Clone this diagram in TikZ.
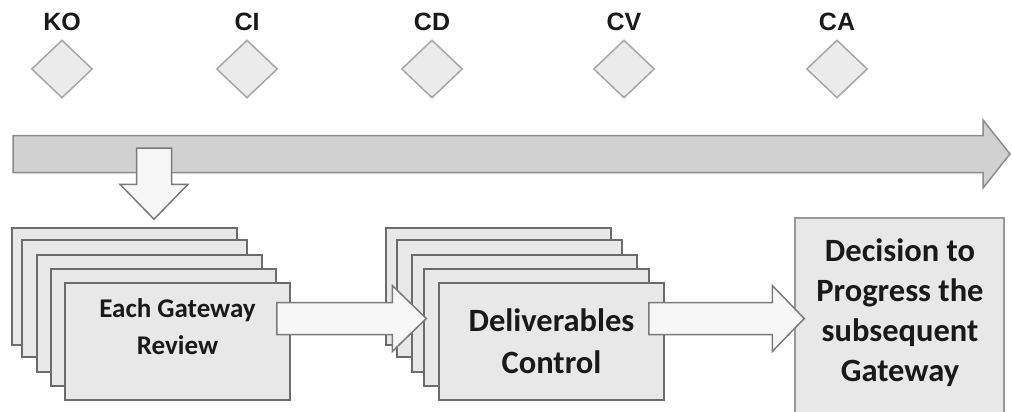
\documentclass[tikz,border=0pt]{standalone}
\usepackage{fontspec}
\setmainfont{Carlito}
\newfontfamily\gatefont{Liberation Sans}
\usetikzlibrary{shapes.geometric,positioning,calc}

\tikzset{
  gate/.style={diamond, draw=black!35, fill=black!8, line width=1.5pt, minimum width=61pt, minimum height=58pt, inner sep=0pt},
  gatetext/.style={font=\gatefont\bfseries\fontsize{25}{25}\selectfont, text=black!90, inner sep=0pt},
  card/.style={draw=black!58, fill=black!9, line width=1.5pt, minimum width=225pt, minimum height=117pt, inner sep=0pt},
  cardtext/.style={font=\bfseries\fontsize{32.5}{42}\selectfont, text=black!90, align=center, inner sep=0pt},
  blockarrow/.style={draw=black!52, fill=black!3, line width=1.5pt},
  timeline/.style={draw=black!45, fill=black!18, line width=1.5pt},
}

\newcommand\fatarrow[6]{% style, from, to, shaft half width, head half width, head length
  \coordinate (fa-base) at ($(#3)!#6!(#2)$);
  \draw[#1] ($(#2)!#4!90:(#3)$) -- ($(fa-base)!#4!90:(#3)$) -- ($(fa-base)!#5!90:(#3)$) -- (#3)
    -- ($(fa-base)!#5!-90:(#3)$) -- ($(fa-base)!#4!-90:(#3)$) -- ($(#2)!#4!-90:(#3)$) -- cycle;
}

\begin{document}
\begin{tikzpicture}[x=1pt, y=-1pt]
\useasboundingbox (0,0) rectangle (1012,412);
\foreach \name/\x in {KO/62, CI/247, CD/432, CV/624, CA/837} {
  \node[gate] (\name) at (\x,69) {};
  \node[gatetext, above=8pt of \name] (\name-text) {\name};
}
\coordinate (tl-start) at (13,154);
\coordinate (tl-end) at (1010,154);
\fatarrow{timeline}{tl-start}{tl-end}{18.5pt}{34pt}{27pt}
\foreach \i/\dx/\dy in {1/0/0, 2/10/12, 3/25/27, 4/39/41, 5/53/55}
  \node[card] (rev\i) at (124.5+\dx, 286.5+\dy) {};
\node[cardtext, font=\bfseries\fontsize{27}{37}\selectfont] (rev-text) at ($(rev5)+(0,-15)$) {Each Gateway\\Review};
\foreach \i/\dx/\dy in {1/0/0, 2/11/12, 3/26/27, 4/38/41}
  \node[card] (del\i) at (498.5+\dx, 286.5+\dy) {};
\node[card, cardtext] (del5) at (551.5, 341.5) {Deliverables\\Control};
\node[card, draw=black!40, minimum width=209pt, minimum height=206pt] (decide) at (899.5, 321) {};
\node[cardtext, font=\bfseries\fontsize{32.5}{40}\selectfont] (decide-text) at (900, 313) {Decision to\\Progress the\\subsequent\\Gateway};
\coordinate (drop-start) at ($(tl-start)+(141,-6)$);
\coordinate (drop-end) at ($(rev1.north)+(29.5,-8)$);
\fatarrow{blockarrow}{drop-start}{drop-end}{17.5pt}{34pt}{35pt}
\coordinate (a1-start) at ($(rev5.east)+(-14,-23)$);
\coordinate (a1-end) at ($(del5.west)+(-12,-23)$);
\fatarrow{blockarrow}{a1-start}{a1-end}{16pt}{33pt}{34pt}
\coordinate (a2-start) at ($(del5.east)+(-16,-23)$);
\coordinate (a2-end) at ($(decide.west)+(10,-2.5)$);
\fatarrow{blockarrow}{a2-start}{a2-end}{16pt}{33pt}{32pt}
\end{tikzpicture}
\end{document}
